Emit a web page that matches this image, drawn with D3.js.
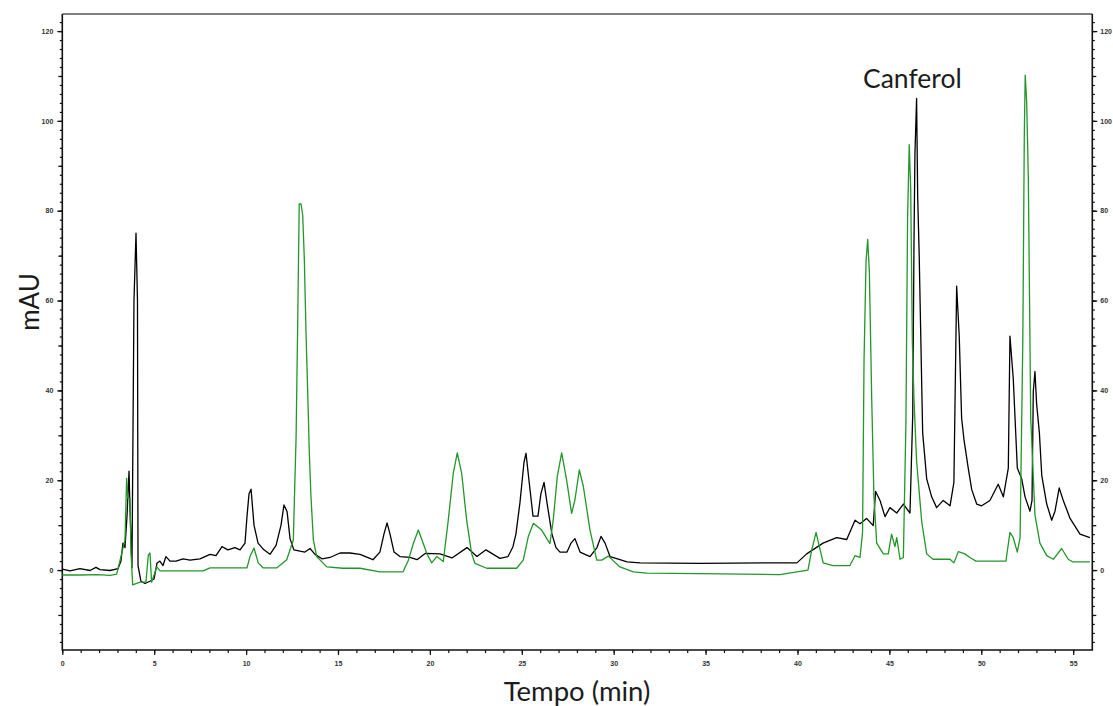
<!DOCTYPE html>
<html>
<head>
<meta charset="utf-8">
<script src="https://cdn.jsdelivr.net/npm/d3@7"></script>
<style>
  body { margin: 0; background: #fff; }
  svg { display: block; }
  .tick text { font-family: "Liberation Sans", Arial, sans-serif; font-size: 7px; font-weight: bold; fill: #333; }
  .titulo { font-family: Lato, "Open Sans", sans-serif; fill: #1c1c1c; }
</style>
</head>
<body>
<svg width="1113" height="706"></svg>
<script>
// trazo negro (min, mAU)
let tNegro = [0, 0.42, 0.96, 1.51, 1.83, 2.05, 2.6, 3.03, 3.19, 3.3, 3.41, 3.52, 3.63, 3.68, 3.79, 3.9, 4.01, 4.09, 4.12,
  4.28, 4.5, 4.77, 4.99, 5.15, 5.31, 5.48, 5.64, 5.86, 6.19, 6.57, 6.95, 7.49, 8.04, 8.36, 8.69, 9.01, 9.39, 9.67,
  9.94, 10.05, 10.16, 10.27, 10.43, 10.65, 10.97, 11.3, 11.63, 11.9, 12.06, 12.23, 12.39, 12.6, 12.93, 13.2, 13.48,
  13.75, 14.13, 14.56, 15.11, 15.65, 16.2, 16.9, 17.28, 17.5, 17.67, 17.83, 18.05, 18.37, 18.92, 19.3, 19.74, 20.55,
  21.2, 22.02, 22.56, 23.05, 23.81, 24.25, 24.52, 24.68, 24.9, 25.12, 25.23, 25.39, 25.61, 25.88, 26.04, 26.21, 26.37,
  26.64, 26.86, 27.08, 27.46, 27.68, 27.89, 28.17, 28.71, 29.09, 29.31, 29.53, 29.8, 30.34, 30.73, 31.43, 34.7,
  39.05, 39.97, 40.5, 41.39, 42.13, 42.68, 43.13, 43.4, 43.76, 44.12, 44.25, 44.49, 44.76, 45.03, 45.4, 45.76, 46.12,
  46.27, 46.34, 46.39, 46.48, 46.54, 46.62, 46.81, 47.03, 47.3, 47.57, 47.93, 48.3, 48.51, 48.66, 48.8, 48.93, 49.06,
  49.29, 49.48, 49.75, 50.02, 50.47, 50.92, 51.2, 51.47, 51.56, 51.74, 51.96, 52.2, 52.38, 52.65, 52.76, 52.83, 52.92,
  53.01, 53.16, 53.29, 53.56, 53.83, 54.01, 54.24, 54.46, 54.83, 55.37, 55.91];
let mauNegro = [0.2, -0.2, 0.3, -0.1, 0.6, 0.1, -0.1, 0.3, 2, 6, 5, 12, 22, 14, 0.5, 60, 75, 60, 1,
  -2.5, -3, -2.5, -2, 1.5, 2, 1, 3, 2, 2, 2.5, 2.2, 2.5, 3.5, 3.2, 5.2, 4.5, 5, 4.5,
  6, 12, 17, 18, 10, 6, 4.5, 3.5, 5.5, 10, 14.5, 13, 7, 4.5, 4.2, 4, 4.8,
  3.5, 2.5, 2.8, 3.8, 3.8, 3.5, 2.3, 4, 8, 10.5, 8, 4, 3, 2.8, 2.3, 3.7, 3.6,
  2.7, 5, 3, 4.5, 2.6, 3, 5.2, 8, 15, 24, 26, 20, 12, 12, 17, 19.5, 15,
  8, 5, 4, 4, 6, 7, 4, 3, 5, 7.5, 6, 3, 2.3, 1.8, 1.6, 1.5,
  1.6, 1.6, 3.6, 6, 7.2, 6.8, 11.1, 10.3, 11.5, 9.9, 17.5, 15.5, 11.9, 13.9, 12.7, 14.7, 12.7,
  34.6, 73.6, 92.7, 105, 83, 70.4, 30.6, 20.3, 16.3, 13.9, 15.5, 14.3, 19.5, 63.2, 52.1, 33.8, 29,
  22.7, 17.9, 14.7, 14.3, 15.5, 19.1, 16.3, 22.7, 52.1, 42.6, 22.7, 20.3, 16.3, 13.1, 15.5, 39.8, 44.2,
  37, 30.6, 21.1, 14.7, 11.1, 13.1, 18.3, 15.5, 11.5, 8, 7.2];

// trazo verde (min, mAU)
let tVerde = [0, 0.96, 1.89, 2.6, 2.96, 3.41, 3.5, 3.56, 3.68, 3.74, 3.83, 4.23, 4.55, 4.68, 4.77, 4.86, 5.14, 5.32,
  7.66, 8.04, 10.05, 10.21, 10.43, 10.66, 10.92, 11.68, 12.21, 12.57, 12.72, 12.81, 12.89, 12.99, 13.08, 13.17, 13.26,
  13.35, 13.44, 13.53, 13.66, 13.84, 14.39, 15.27, 16.2, 17.28, 18.54, 18.83, 19.1, 19.37, 19.64, 19.83, 20.1, 20.37,
  20.73, 21, 21.27, 21.49, 21.73, 22, 22.27, 22.45, 23.09, 24.72, 25.08, 25.35, 25.63, 26.08, 26.53, 26.71, 26.93,
  27.17, 27.44, 27.71, 27.89, 28.13, 28.35, 28.71, 29.08, 29.35, 29.71, 30.34, 31.07, 31.8, 34.7, 39.05, 39.97, 40.57,
  40.77, 41.01, 41.19, 41.4, 41.93, 42.85, 43.13, 43.4, 43.54, 43.62, 43.73, 43.82, 43.91, 44.04, 44.16, 44.31, 44.67,
  44.94, 45.12, 45.3, 45.4, 45.58, 45.76, 45.9, 45.99, 46.08, 46.16, 46.25, 46.34, 46.48, 46.76, 47.03, 47.37, 48.3,
  48.51, 48.75, 49.11, 49.38, 49.71, 51.34, 51.56, 51.74, 51.96, 52.11, 52.26, 52.34, 52.39, 52.47, 52.56, 52.69,
  52.92, 53.19, 53.56, 53.92, 54.37, 54.73, 54.98, 55.91];
let mauVerde = [-1.1, -1.1, -1.0, -1.2, -0.9, 6.7, 20.4, 16, 16, 3.8, -3.3, -2.7, -2.7, 3.3, 3.8, -2.7, 0.7, -0.2,
  -0.2, 0.5, 0.5, 3, 4.9, 1.6, 0.5, 0.5, 2.3, 6.7, 29.7, 55.7, 81.5, 81.5, 79, 69, 52.8,
  40, 26, 16.3, 6.7, 3, 0.7, 0.4, 0.4, -0.4, -0.4, 2.2, 5.9, 8.9, 5.9, 3.7, 1.6, 3,
  1.9, 11.1, 21.5, 26.1, 21.5, 11.1, 3.7, 1.5, 0.4, 0.4, 2.2, 7.4, 10.4, 8.9, 5.9, 11.1, 20.8,
  26.1, 20, 12.6, 15.6, 22.3, 18.6, 8.9, 2.2, 2.2, 3.1, 0.7, -0.4, -0.7, -0.8, -1, -0.4, 0,
  4.4, 8.4, 5.2, 1.6, 1, 1, 3.2, 2.8, 8.4, 46.5, 68.8, 73.6, 66.4, 37.8, 16.3, 6, 3.6,
  3.6, 8, 5.2, 7.2, 2.4, 2.8, 33, 78.4, 94.7, 84.7, 50.5, 37.8, 24.3, 10.7, 3.6, 2.4, 2.4,
  1.6, 4.1, 3.6, 2.8, 2, 2, 8.4, 7.2, 4, 7.2, 51.3, 96.7, 110.2, 104.2, 87.1, 33.8,
  12.3, 6, 3.2, 2.4, 4.8, 2.4, 1.8, 1.8];

let xTicks = [0, 5, 10, 15, 20, 25, 30, 35, 40, 45, 50, 55];
let yTicks = [0, 20, 40, 60, 80, 100, 120];

let svg = d3.select("svg");
let mLeft = 62.3, mRight = 1092.3, mTop = 14, mBottom = 650;

let x = d3.scaleLinear().domain([0, 56.04]).range([mLeft, mRight]);
let y = d3.scaleLinear().domain([-17.8, 123.8]).range([mBottom, mTop]);

// marco superior
svg.append("line")
    .attr("x1", mLeft).attr("x2", mRight)
    .attr("y1", mTop).attr("y2", mTop)
    .attr("stroke", "#555").attr("stroke-width", 1.6);

// ejes: menores, medios y principales
function drawAxis(axisFn, scale, tr, vals, size, labels) {
    let g = svg.append("g")
        .attr("transform", tr)
        .call(axisFn(scale).tickValues(vals).tickSize(size).tickPadding(4)
            .tickFormat(labels ? d3.format("d") : ""));
    g.select(".domain").remove();
    g.selectAll(".tick line").attr("stroke", "#111").attr("stroke-width", 1.2);
    return g;
}

let yMinor = d3.range(-16, 124, 2);
let yMid = d3.range(-10, 124, 10);
let xMinor = d3.range(0, 56, 1);

drawAxis(d3.axisLeft, y, "translate(" + mLeft + ",0)", yMinor, 2.5, false);
drawAxis(d3.axisLeft, y, "translate(" + mLeft + ",0)", yMid, 4, false);
drawAxis(d3.axisLeft, y, "translate(" + mLeft + ",0)", yTicks, 5, true);
drawAxis(d3.axisRight, y, "translate(" + mRight + ",0)", yMinor, 2.5, false);
drawAxis(d3.axisRight, y, "translate(" + mRight + ",0)", yMid, 4, false);
drawAxis(d3.axisRight, y, "translate(" + mRight + ",0)", yTicks, 5, true)
    .selectAll("text").attr("x", 8);
drawAxis(d3.axisBottom, x, "translate(0," + mBottom + ")", xMinor, 3, false);
drawAxis(d3.axisBottom, x, "translate(0," + mBottom + ")", xTicks, 5, true)
    .selectAll("text").attr("y", 11);

// lineas de los ejes
svg.append("path")
    .attr("d", "M" + mLeft + "," + mTop + "V" + mBottom + "H" + mRight + "V" + mTop)
    .attr("fill", "none").attr("stroke", "#111").attr("stroke-width", 1.6);

let line = d3.line()
    .x(d => x(d[0]))
    .y(d => y(d[1]));

svg.append("path")
    .datum(d3.zip(tNegro, mauNegro))
    .attr("d", line)
    .attr("fill", "none").attr("stroke", "#000").attr("stroke-width", 1.3)
    .attr("stroke-linejoin", "round");

svg.append("path")
    .datum(d3.zip(tVerde, mauVerde))
    .attr("d", line)
    .attr("fill", "none").attr("stroke", "#23962a").attr("stroke-width", 1.3)
    .attr("stroke-linejoin", "round");

// titulos
svg.append("text").attr("class", "titulo")
    .attr("transform", "translate(39,302) rotate(-90)")
    .attr("text-anchor", "middle")
    .style("font-size", "26px")
    .text("mAU");

svg.append("text").attr("class", "titulo")
    .attr("x", 577).attr("y", 701)
    .attr("text-anchor", "middle")
    .style("font-size", "27.5px")
    .text("Tempo (min)");

svg.append("text").attr("class", "titulo")
    .attr("x", 863).attr("y", 88)
    .style("font-size", "26.5px")
    .text("Canferol");
</script>
</body>
</html>
